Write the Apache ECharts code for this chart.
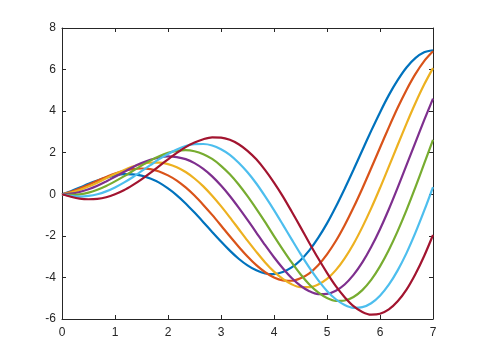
<!DOCTYPE html>
<html><head><meta charset="utf-8">
<script src="https://cdn.jsdelivr.net/npm/echarts@6/dist/echarts.min.js"></script>
<style>html,body{margin:0;padding:0;background:#fff}#c{width:480px;height:360px}</style>
</head><body><div id="c"></div>
<script>
const xs = [0, 0.1667, 0.3333, 0.5, 0.6667, 0.8333, 1, 1.1667, 1.3333, 1.5, 1.6667, 1.8333, 2, 2.1667, 2.3333, 2.5, 2.6667, 2.8333, 3, 3.1667, 3.3333, 3.5, 3.6667, 3.8333, 4, 4.1667, 4.3333, 4.5, 4.6667, 4.8333, 5, 5.1667, 5.3333, 5.5, 5.6667, 5.8333, 6, 6.1667, 6.3333, 6.5, 6.6667, 6.8333, 7];
const blue   = [0, 0.15, 0.32, 0.50, 0.66, 0.80, 0.91, 0.97, 0.96, 0.90, 0.76, 0.56, 0.28, -0.05, -0.44, -0.88, -1.34, -1.81, -2.27, -2.71, -3.10, -3.42, -3.66, -3.81, -3.84, -3.74, -3.52, -3.17, -2.70, -2.10, -1.40, -0.60, 0.27, 1.18, 2.12, 3.05, 3.94, 4.77, 5.49, 6.10, 6.55, 6.83, 6.93];
const orange = [0, 0.12, 0.28, 0.46, 0.65, 0.83, 1.00, 1.13, 1.21, 1.24, 1.21, 1.10, 0.91, 0.66, 0.33, -0.06, -0.51, -0.99, -1.50, -2.02, -2.52, -2.99, -3.41, -3.75, -4.00, -4.14, -4.16, -4.04, -3.80, -3.41, -2.89, -2.25, -1.49, -0.64, 0.28, 1.25, 2.24, 3.22, 4.16, 5.02, 5.78, 6.41, 6.88];
const yellow = [0, 0.08, 0.21, 0.37, 0.56, 0.77, 0.97, 1.16, 1.33, 1.45, 1.52, 1.52, 1.45, 1.30, 1.07, 0.76, 0.38, -0.07, -0.57, -1.11, -1.67, -2.23, -2.77, -3.28, -3.72, -4.07, -4.33, -4.47, -4.47, -4.34, -4.07, -3.65, -3.08, -2.39, -1.58, -0.68, 0.30, 1.33, 2.37, 3.40, 4.38, 5.28, 6.07];
const purple = [0, 0.03, 0.11, 0.24, 0.41, 0.62, 0.84, 1.07, 1.30, 1.50, 1.66, 1.77, 1.82, 1.79, 1.69, 1.50, 1.22, 0.86, 0.42, -0.08, -0.64, -1.23, -1.84, -2.45, -3.03, -3.56, -4.03, -4.40, -4.66, -4.80, -4.79, -4.64, -4.34, -3.88, -3.28, -2.54, -1.68, -0.72, 0.32, 1.40, 2.49, 3.57, 4.60];
const green  = [0, -0.03, 0, 0.08, 0.22, 0.40, 0.62, 0.86, 1.12, 1.38, 1.62, 1.83, 1.99, 2.09, 2.12, 2.07, 1.93, 1.70, 1.37, 0.96, 0.47, -0.09, -0.70, -1.34, -2.01, -2.66, -3.28, -3.85, -4.34, -4.72, -4.99, -5.13, -5.11, -4.94, -4.61, -4.12, -3.47, -2.68, -1.77, -0.76, 0.33, 1.47, 2.62];
const cyan   = [0, -0.08, -0.11, -0.08, 0, 0.14, 0.33, 0.56, 0.82, 1.11, 1.40, 1.69, 1.94, 2.16, 2.32, 2.41, 2.42, 2.35, 2.17, 1.90, 1.52, 1.06, 0.52, -0.10, -0.76, -1.46, -2.17, -2.87, -3.53, -4.13, -4.65, -5.05, -5.33, -5.46, -5.43, -5.24, -4.88, -4.35, -3.66, -2.83, -1.86, -0.79, 0.35];
const red    = [0, -0.12, -0.21, -0.24, -0.22, -0.14, 0, 0.19, 0.44, 0.72, 1.03, 1.36, 1.68, 1.99, 2.27, 2.49, 2.65, 2.74, 2.73, 2.62, 2.41, 2.09, 1.68, 1.16, 0.56, -0.10, -0.83, -1.58, -2.34, -3.08, -3.78, -4.42, -4.95, -5.38, -5.66, -5.79, -5.75, -5.54, -5.15, -4.59, -3.85, -2.97, -1.96];

const seriesList = [blue, orange, yellow, purple, green, cyan, red];
const colors = ['#0072BD', '#D95319', '#EDB120', '#7E2F8E', '#77AC30', '#4DBEEE', '#A2142F'];

const chart = echarts.init(document.getElementById('c'), null, {renderer: 'canvas'});
const axisCommon = {
  type: 'value', min: 0, max: 7, interval: 1,
  axisLine: {show: true, onZero: false, lineStyle: {color: '#262626', width: 1}},
  axisTick: {show: true, inside: true, length: 4, lineStyle: {color: '#262626'}},
  splitLine: {show: false}
};
const labelStyle = {color: '#262626', fontSize: 12, fontFamily: 'Liberation Sans, Arial, sans-serif'};
chart.setOption({
  animation: false,
  color: colors,
  grid: {left: 62, right: 47, top: 28, bottom: 41, show: false},
  xAxis: [
    Object.assign({}, axisCommon, {position: 'bottom', axisLabel: Object.assign({margin: 8}, labelStyle)}),
    Object.assign({}, axisCommon, {position: 'top', axisLabel: {show: false}})
  ],
  yAxis: [
    Object.assign({}, axisCommon, {min: -6, max: 8, interval: 2, position: 'left', axisLabel: Object.assign({margin: 6}, labelStyle)}),
    Object.assign({}, axisCommon, {min: -6, max: 8, interval: 2, position: 'right', axisLabel: {show: false}})
  ],
  series: seriesList.map((arr, i) => ({
    type: 'line',
    data: xs.map((x, j) => [x, arr[j]]),
    smooth: 0.3,
    showSymbol: false,
    lineStyle: {width: 2.2, color: colors[i]},
    xAxisIndex: 0, yAxisIndex: 0
  }))
});
</script></body></html>
